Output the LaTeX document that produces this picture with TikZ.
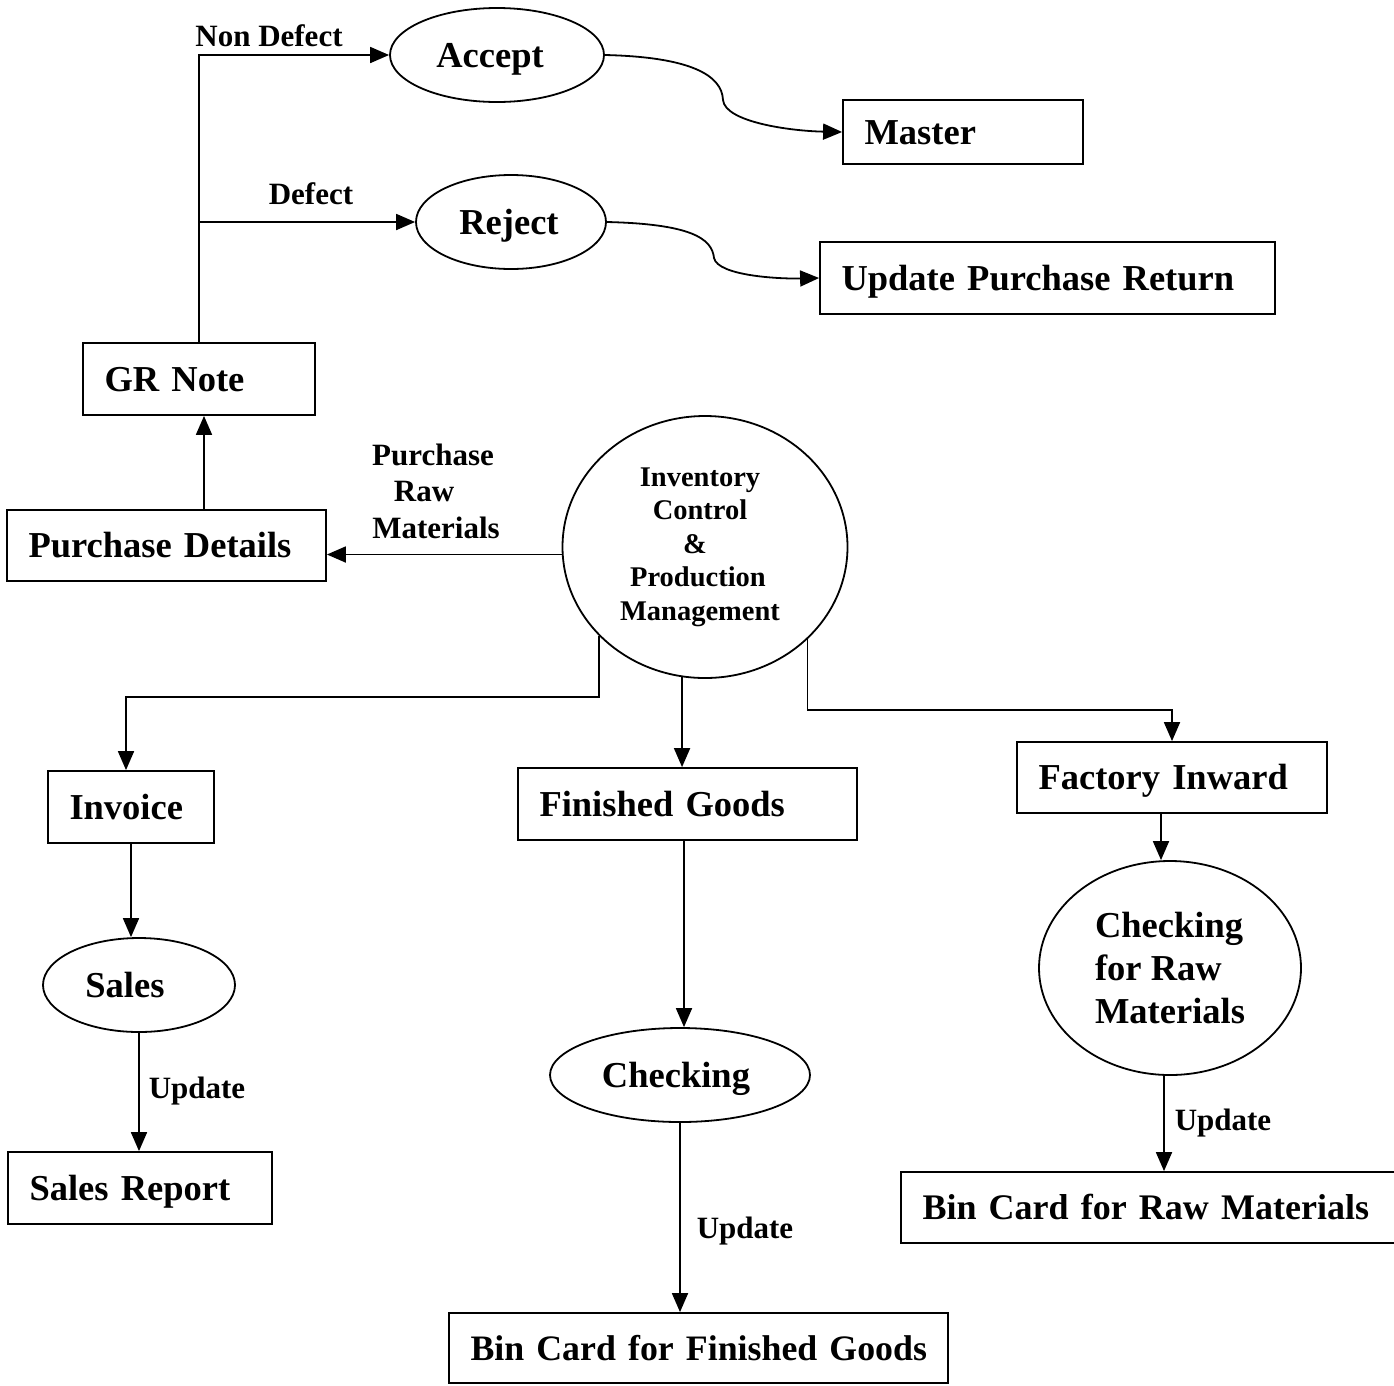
\documentclass[tikz,border=0pt]{standalone}
\usepackage{fontspec}
\setmainfont{Liberation Serif}
\usetikzlibrary{arrows.meta,shapes.geometric}
\begin{document}
\begin{tikzpicture}[x=1pt,y=-1pt,
  line width=1.8pt,
  big/.style={font=\bfseries\fontsize{36.5}{43}\selectfont},
  mid/.style={font=\bfseries\fontsize{31}{36.5}\selectfont},
  small/.style={font=\bfseries\fontsize{28.5}{33.5}\selectfont},
  box/.style n args={2}{draw, rectangle, big, inner xsep=21.5pt, inner ysep=0pt,
    minimum width=#1, minimum height=#2, text width=#1-43, align=left,
    text height=24.8pt, text depth=0pt},
  oval/.style n args={2}{draw, ellipse, big, inner sep=0pt,
    minimum width=#1, minimum height=#2, text height=24.8pt, text depth=0pt},
  lbl/.style={mid, inner sep=0pt, text height=21pt, text depth=0pt},
  arr/.style={-{Triangle[length=19pt,width=16pt]}},
]
\useasboundingbox (0,0) rectangle (1394,1385);
\fill[white] (0,0) rectangle (1394,1385);

% goods receipt branch
\node[oval={214}{94}] (acc) at (497,55) {Accept\kern14pt};
\node[oval={190}{94}] (rej) at (511,222) {Reject\kern4pt};
\node[box={240}{64}] (ms) at (963,132) {Master};
\node[box={455}{72}] (upr) at (1047.5,278) {\mbox{Update Purchase Return}};
\node[box={232}{72}] (gr) at (199,379) {GR Note};
\node[box={319}{71}] (pd) at (166.5,545.5) {\mbox{Purchase Details}};

% central process
\node[draw, ellipse, inner sep=0pt, minimum width=285, minimum height=262,
  align=center, small] (ic) at (705,547)
  {Inventory\kern10pt\\Control\kern10pt\\\&\kern20pt\\Production\kern14pt\\Management\kern10pt};

% sales branch
\node[box={166}{72}] (inv) at (131,807) {Invoice};
\node[oval={192}{94}] (sal) at (139,985) {Sales\kern28pt};
\node[box={264}{72}] (sr) at (140,1188) {\mbox{Sales Report}};

% finished goods branch
\node[box={339}{72}] (fg) at (687.5,804) {\mbox{Finished Goods}};
\node[oval={260}{94}] (chk) at (680,1075) {Checking\kern8pt};
\node[box={499}{70}] (bf) at (698.5,1348) {\mbox{\fontsize{35.8}{43}\selectfont Bin Card for Finished Goods}};

% raw materials branch
\node[box={310}{71}] (fi) at (1172,777.5) {\mbox{Factory Inward}};
\node[draw, ellipse, inner sep=0pt, minimum width=262, minimum height=214,
  align=left, big] (cr) at (1170,968) {Checking\\for Raw\\Materials};
\node[box={497}{71}] (br) at (1149.5,1207.5) {\mbox{\fontsize{36}{43}\selectfont Bin Card for Raw Materials}};

% connectors
\draw[arr] (gr.north) |- (acc.west);
\draw[arr] (gr.north |- rej.west) -- (rej.west);
\draw[arr] (acc.east) .. controls (690,57) and (722,75) .. (723,100)
  .. controls (725,122) and (790,131) .. (ms.west);
\draw[arr] (rej.east) .. controls (690,224) and (712,238) .. (714,258)
  .. controls (718,276) and (780,279) .. (upr.west);
\draw[arr] ([xshift=5pt]gr.south |- pd.north) -- ([xshift=5pt]gr.south);
\draw[arr] (ic.183.2) -- (ic.183.2 -| pd.east);

\coordinate (jl) at (126,697);
\draw[arr] (ic.220.5) |- (jl) -- (jl |- inv.north);
\draw[arr] (ic.260) -- (ic.260 |- fg.north);
\coordinate (jr) at (1172,710);
\draw[arr] (ic.318.3) |- (jr) -- (jr |- fi.north);

\draw[arr] (inv.south) -- (inv.south |- sal.north);
\draw[arr] (sal.south) -- (sal.south |- sr.north);
\draw[arr] ([xshift=4pt]chk.north |- fg.south) -- ([xshift=4pt]chk.north);
\draw[arr] (chk.south) -- (chk.south |- bf.north);
\draw[arr] ([xshift=-11pt]fi.south) -- ([xshift=-11pt]fi.south |- cr.north);
\draw[arr] ([xshift=-6pt]cr.south) -- ([xshift=-6pt]cr.south |- br.north);

% flow labels
\node[lbl] (lnd) at (269,36) {Non Defect};
\node[lbl] (ld) at (311,194) {Defect};
\node[mid, inner sep=0pt, align=center] (lprm) at (436,491) {Purchase\kern6pt\\Raw\kern24pt\\Materials};
\node[lbl] (lu1) at (197,1088) {Update};
\node[lbl] (lu2) at (745,1228) {Update};
\node[lbl] (lu3) at (1223,1120) {Update};
\end{tikzpicture}
\end{document}
